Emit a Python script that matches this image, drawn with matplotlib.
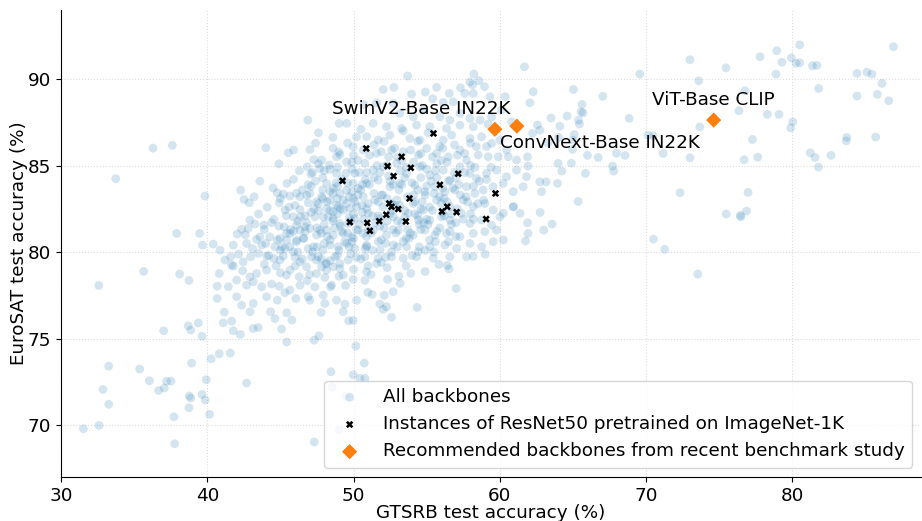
import numpy as np
import matplotlib
matplotlib.use("Agg")
import matplotlib.pyplot as plt

# ---------------- data (GTSRB %, EuroSAT %) ----------------
# sparse outskirts, lower-left
outskirts_left = [
    (36.29, 86.01), (37.61, 86.17), (33.74, 84.24), (37.91, 81.08), (39.48, 81.08),
    (35.65, 78.88), (38.11, 78.73), (38.75, 78.36), (32.58, 78.07),
    (41.16, 76.53), (41.09, 75.91), (41.67, 76.01), (41.78, 75.45), (42.26, 75.24),
    (37.02, 75.45), (38.70, 75.74), (38.87, 75.49), (39.39, 75.90), (39.64, 75.13),
    (40.27, 73.83), (40.82, 74.12), (41.57, 74.16), (38.93, 73.58), (33.26, 73.41),
    (35.38, 73.24), (36.04, 72.56), (37.22, 72.53), (37.52, 72.54), (36.68, 72.00),
    (37.06, 72.14), (32.87, 72.06), (39.93, 72.62), (38.77, 71.68), (38.87, 71.56),
    (39.64, 71.77), (39.86, 71.45), (33.26, 71.20), (38.75, 71.00), (37.72, 70.48),
    (40.16, 70.62), (42.69, 72.43), (31.53, 69.79), (32.60, 69.98), (37.77, 68.92),
]
outskirts_low = [
    (45.43, 74.80), (47.31, 74.91), (47.63, 75.16), (50.16, 74.57), (48.46, 73.08),
    (49.98, 72.91), (47.31, 69.02), (49.02, 69.73), (48.55, 72.20), (49.48, 71.68),
    (50.44, 72.70), (50.78, 72.70), (50.73, 73.58),
    (45.08, 75.55), (45.79, 76.07), (45.43, 76.49), (44.33, 76.55), (44.63, 76.15),
    (47.79, 76.51), (49.30, 76.55), (49.67, 76.03), (49.98, 76.05),
    (42.92, 76.55), (43.14, 75.58), (43.49, 75.64),
    (50.89, 80.40), (51.58, 79.34), (50.89, 78.86), (50.78, 78.36), (50.98, 77.67),
    (51.28, 77.55), (52.33, 78.42), (53.19, 78.19), (51.80, 77.00), (52.26, 76.84),
    (52.03, 76.69), (52.71, 77.71), (52.10, 77.50), (52.60, 76.23), (54.35, 76.80),
    (57.02, 77.90), (54.90, 78.88), (53.92, 78.77), (55.84, 79.29), (56.41, 79.23),
    (56.54, 79.03), (58.18, 79.75), (59.00, 79.88), (61.76, 80.64),
]
# left part of the main cloud
cloud_left = [
    (48.59, 86.63), (44.01, 86.03), (45.54, 85.74), (47.02, 85.93), (47.29, 85.35),
    (49.07, 85.64), (49.98, 86.09), (50.21, 86.66), (46.84, 84.93), (47.09, 84.51),
    (47.70, 84.83), (48.39, 84.78), (48.84, 84.55), (49.48, 84.55), (50.09, 84.55),
    (45.45, 83.97), (44.79, 83.43), (45.20, 83.35), (45.65, 83.24), (46.34, 83.20),
    (44.92, 82.85), (42.28, 83.58), (42.51, 83.04), (42.87, 82.85), (39.84, 83.24),
    (47.02, 83.39), (47.47, 82.91), (47.82, 83.20), (46.90, 82.85), (46.34, 82.46),
    (46.38, 82.04), (47.36, 82.04), (47.93, 82.04), (48.27, 82.04), (48.61, 82.33),
    (48.96, 82.62), (49.53, 82.81), (49.98, 83.10), (42.92, 81.85), (43.26, 81.62),
    (42.35, 81.31), (42.05, 81.04), (42.80, 81.37), (43.87, 81.56), (44.56, 81.89),
    (45.26, 81.46), (46.11, 81.56), (46.68, 81.46), (45.65, 81.08), (44.97, 80.79),
    (44.28, 80.88), (43.60, 80.88), (43.37, 80.73), (40.41, 80.46), (40.87, 80.11),
    (39.68, 80.40), (41.60, 79.73), (42.14, 79.88), (42.46, 79.44), (41.78, 79.19),
    (42.96, 79.73), (43.49, 79.92), (44.06, 79.77), (44.56, 79.63), (45.20, 79.77),
    (45.65, 80.31), (46.11, 80.69), (46.56, 80.79), (47.25, 80.31), (47.13, 79.73),
    (47.59, 79.73), (48.16, 79.38), (48.73, 79.73), (49.07, 79.34), (49.64, 79.54),
    (40.82, 78.76), (41.66, 79.25), (42.42, 78.92), (42.92, 78.57), (43.15, 78.28),
    (43.72, 77.99), (44.40, 78.15), (44.92, 78.03), (45.42, 78.67), (46.29, 78.57),
    (46.84, 78.34), (47.47, 78.76), (48.04, 78.53), (48.43, 77.99), (49.30, 78.67),
    (49.98, 78.42), (49.46, 78.07), (40.68, 78.03), (40.68, 77.32), (42.01, 77.42),
    (42.35, 76.93), (43.15, 77.03), (44.06, 77.42), (44.79, 77.22), (45.31, 77.65),
    (46.06, 77.32), (46.90, 77.42), (47.93, 77.51), (48.50, 78.09), (49.41, 76.99),
    (50.21, 77.22),
    (48.16, 83.97), (48.61, 83.68), (49.07, 83.39), (49.53, 83.58), (49.98, 83.97),
    (50.32, 83.68), (48.39, 83.00), (48.84, 82.71), (49.30, 82.43), (49.75, 82.52),
    (50.21, 82.62), (48.16, 82.52), (48.61, 81.94), (49.07, 81.65), (49.64, 81.65),
    (50.09, 81.94), (48.16, 81.27), (48.61, 80.98), (49.30, 81.08), (49.87, 80.88),
    (50.32, 81.27), (48.39, 80.40), (48.96, 80.31), (49.53, 80.50), (50.09, 80.21),
    (48.61, 79.15), (48.16, 78.96), (49.07, 79.05), (47.47, 79.54), (47.82, 79.15),
    (46.34, 81.27), (45.42, 81.08), (45.88, 82.04), (45.31, 82.43), (47.02, 81.37),
    (47.47, 80.98), (47.70, 81.27), (45.88, 80.02), (46.34, 79.44), (46.79, 79.15),
    (45.65, 78.96), (44.97, 79.54), (47.36, 77.99), (46.34, 78.09), (45.65, 77.80),
    (47.02, 77.22), (48.04, 77.03), (48.84, 77.22), (44.06, 78.96), (43.37, 78.76),
    (42.69, 78.09), (42.01, 78.38), (41.44, 78.00), (41.21, 79.54), (41.78, 80.40),
    (42.69, 80.50), (43.72, 80.40), (44.63, 80.31), (45.31, 80.21), (45.42, 80.69),
    (46.88, 87.63), (49.02, 87.44), (49.53, 87.44), (48.34, 85.03), (48.84, 85.51),
    (49.53, 85.22), (47.82, 85.32),
]
# centre / right part of the main cloud
cloud_centre = [
    (53.70, 90.18), (52.03, 89.40), (52.76, 89.52), (53.97, 89.13), (54.91, 89.25),
    (55.68, 89.52), (56.55, 89.17), (57.32, 89.50), (57.62, 89.17), (58.23, 90.29),
    (58.57, 89.91), (58.96, 89.56), (57.96, 89.83), (58.14, 89.67), (62.29, 89.27),
    (60.37, 88.98), (59.33, 88.98), (58.19, 89.17),
    (50.71, 88.52), (51.58, 88.63), (52.72, 88.60), (55.41, 88.86), (56.14, 88.65),
    (56.82, 88.69), (53.17, 88.02), (54.09, 87.82), (54.77, 88.21), (55.91, 87.82),
    (56.59, 87.63), (57.28, 88.02), (57.96, 87.73), (58.64, 87.63), (59.44, 87.82),
    (60.12, 88.21), (60.81, 87.54), (51.35, 87.44), (52.26, 87.25), (53.29, 87.15),
    (54.31, 87.34), (55.22, 87.25), (56.36, 87.15), (57.28, 87.34), (58.19, 87.25),
    (50.90, 86.67), (51.69, 86.48), (52.49, 86.76), (53.86, 86.57), (54.54, 86.48),
    (56.14, 86.48), (56.71, 86.76), (57.96, 86.57), (58.76, 86.67), (59.44, 86.28),
    (60.01, 86.48), (60.46, 85.90), (50.67, 85.90), (51.58, 85.71), (52.60, 85.90),
    (53.40, 85.80), (54.43, 85.61), (55.00, 85.99), (55.68, 85.71), (56.48, 85.51),
    (57.28, 85.90), (57.73, 85.32), (58.53, 85.61), (59.21, 85.51), (59.90, 85.51),
    (60.58, 85.51), (61.15, 85.32),
    (50.78, 85.13), (51.35, 84.74), (52.03, 84.93), (52.95, 85.13), (53.63, 84.55),
    (54.54, 84.93), (55.22, 84.45), (56.14, 84.74), (56.59, 84.16), (57.28, 84.93),
    (57.96, 84.55), (58.41, 84.26), (59.10, 84.55), (59.78, 84.74), (60.46, 84.36),
    (61.15, 84.74), (61.83, 84.36), (50.90, 83.97), (51.69, 84.16), (52.49, 83.78),
    (53.17, 83.97), (54.20, 83.87), (54.88, 83.49), (55.57, 83.78), (56.25, 83.49),
    (56.93, 83.59), (57.73, 83.78), (58.30, 83.39), (58.87, 83.59), (59.55, 83.78),
    (60.24, 83.97), (60.92, 83.49), (61.60, 83.78),
    (50.67, 83.20), (51.47, 83.01), (52.03, 82.62), (52.95, 83.01), (54.09, 82.81),
    (54.77, 82.43), (55.68, 83.01), (56.59, 82.62), (57.50, 83.01), (58.19, 82.62),
    (58.98, 82.81), (59.55, 82.43), (60.24, 82.24), (60.92, 82.62), (51.01, 82.24),
    (51.81, 81.95), (52.72, 82.04), (53.74, 82.24), (54.43, 81.85), (55.22, 81.85),
    (56.02, 82.04), (56.59, 81.85), (57.39, 82.24), (57.96, 81.66), (58.76, 81.85),
    (59.44, 81.56), (60.01, 82.04),
    (50.67, 81.08), (51.35, 81.27), (52.26, 80.98), (53.06, 81.27), (54.09, 80.98),
    (54.88, 81.27), (55.57, 80.98), (56.36, 81.08), (57.28, 80.89), (58.19, 81.08),
    (58.98, 81.18), (59.78, 81.27), (60.24, 80.70), (50.90, 80.31), (51.81, 80.12),
    (52.72, 80.41), (53.63, 80.31), (54.43, 80.02), (55.22, 80.31), (56.25, 80.41),
    (57.05, 80.21), (57.96, 80.50), (58.76, 80.31), (59.55, 80.60), (50.78, 79.73),
    (51.69, 79.64), (52.60, 79.73), (53.40, 79.64), (54.31, 79.73), (55.45, 79.64),
    (56.59, 79.73), (57.73, 79.73),
]
# darkest overlapping region of the cloud (many stacked points)
cloud_dense = [
    (46.7, 81.2), (47.3, 82.5), (47.9, 83.6), (48.2, 80.9), (48.6, 81.8), (48.9, 83.1),
    (49.2, 84.2), (49.4, 80.6), (49.7, 82.0), (49.9, 83.5), (50.2, 81.3), (50.4, 84.6),
    (50.6, 82.7), (50.9, 80.9), (51.1, 83.9), (51.3, 82.1), (51.6, 85.0), (51.8, 81.5),
    (52.0, 83.3), (52.2, 80.5), (52.4, 84.4), (52.6, 82.4), (52.9, 81.1), (53.1, 83.6),
    (53.3, 85.3), (53.5, 82.0), (53.8, 80.8), (54.0, 84.0), (54.2, 82.9), (54.5, 81.6),
    (54.7, 85.0), (54.9, 83.3), (55.2, 80.7), (55.4, 82.4), (55.7, 84.3), (55.9, 81.4),
    (56.2, 83.1), (56.4, 85.2), (56.7, 82.2), (57.0, 80.9), (57.2, 83.9), (57.5, 81.9),
    (48.0, 84.7), (47.5, 80.3), (46.9, 83.9), (50.0, 85.6), (51.4, 86.2), (52.8, 86.0),
    (54.4, 86.4), (55.9, 86.1), (49.1, 81.5), (50.7, 81.9), (52.3, 81.8), (53.7, 81.3),
    (55.0, 81.9), (56.5, 80.6), (50.1, 82.9), (51.7, 82.9), (53.2, 82.7), (54.6, 82.5),
    (56.0, 82.8), (57.8, 82.9), (48.4, 82.4), (47.2, 84.6), (58.3, 84.9), (58.9, 83.0),
    (46.2, 80.0), (47.8, 79.6), (49.8, 79.9), (51.0, 79.2),
]
cloud_dense2 = [
    (47.6, 86.9), (50.5, 87.1), (52.1, 86.4), (53.4, 87.0), (55.1, 86.9), (56.9, 86.2),
    (58.4, 86.1), (59.2, 87.4),
    (45.9, 85.9), (47.4, 86.3), (48.6, 86.0), (49.6, 86.3), (51.1, 85.6), (52.4, 85.5),
    (53.9, 85.9), (55.4, 85.5), (56.1, 86.0), (57.6, 85.7), (59.1, 86.1),
    (44.9, 85.1), (46.3, 84.7), (47.6, 85.1), (48.9, 84.9), (49.9, 85.2), (50.9, 84.6),
    (52.3, 85.0), (53.2, 84.7), (54.1, 85.2), (55.0, 84.8), (56.0, 85.3), (56.9, 84.6),
    (58.0, 85.0), (59.4, 84.9),
    (43.6, 84.1), (44.5, 83.7), (45.9, 84.2), (46.5, 83.6), (47.4, 84.1), (48.4, 83.5),
    (49.6, 84.0), (50.5, 83.6), (51.4, 84.3), (52.7, 83.9), (53.5, 84.3), (54.4, 83.6),
    (55.3, 84.1), (56.1, 83.7), (57.0, 84.3), (58.2, 83.8), (59.1, 84.2),
    (43.2, 83.2), (44.1, 82.6), (45.0, 83.1), (46.0, 82.7), (46.8, 83.3), (47.6, 82.8),
    (48.6, 83.4), (49.3, 83.0), (50.3, 83.3), (51.0, 82.8), (51.9, 83.3), (52.8, 82.7),
    (53.7, 83.2), (54.7, 82.9), (55.5, 83.4), (56.4, 82.9), (57.3, 83.3), (58.5, 82.8),
    (43.5, 82.2), (44.4, 81.7), (45.4, 82.1), (46.2, 81.8), (47.1, 82.3), (48.0, 81.6),
    (48.9, 82.2), (49.8, 81.8), (50.6, 82.3), (51.5, 81.7), (52.5, 82.2), (53.3, 81.7),
    (54.2, 82.2), (55.1, 81.6), (56.1, 82.3), (57.0, 81.7), (58.0, 82.2),
    (42.6, 81.0), (43.9, 81.3), (44.8, 80.7), (45.7, 81.3), (46.6, 80.8), (47.5, 81.4),
    (48.4, 80.7), (49.2, 81.2), (50.0, 80.8), (51.0, 81.3), (51.9, 80.7), (52.7, 81.3),
    (53.6, 80.8), (54.6, 81.3), (55.6, 80.6), (56.6, 81.2),
    (43.1, 80.2), (44.2, 79.8), (45.1, 80.3), (46.0, 79.7), (46.9, 80.2), (47.9, 80.1),
    (48.9, 79.8), (49.7, 80.3), (50.5, 79.6), (51.3, 80.1), (52.2, 79.7), (53.0, 80.3),
    (54.0, 79.8), (54.9, 80.1),
    (43.9, 79.3), (45.0, 78.8), (46.0, 79.2), (47.0, 78.7), (48.1, 79.3), (49.0, 78.6),
    (50.0, 79.0), (51.2, 78.7), (52.3, 79.1), (53.1, 78.6),
]
cloud_dense3 = [
    (49.0, 85.8), (50.3, 85.3), (51.9, 85.8), (53.0, 85.5), (54.6, 85.7), (55.7, 85.1),
    (57.1, 85.6), (58.0, 86.3),
    (47.9, 84.3), (48.8, 84.0), (49.9, 84.8), (50.8, 84.2), (51.8, 84.6), (52.5, 84.1),
    (53.6, 84.9), (54.6, 84.3), (55.6, 84.7), (56.5, 84.1), (57.6, 84.6), (58.6, 84.1),
    (46.1, 83.4), (47.1, 83.8), (47.9, 83.1), (48.9, 83.8), (49.7, 83.2), (50.6, 83.9),
    (51.4, 83.4), (52.3, 83.1), (53.3, 83.9), (54.1, 83.3), (55.0, 83.8), (55.9, 83.2),
    (56.8, 83.7), (57.7, 83.2),
    (45.6, 82.6), (46.7, 82.1), (47.6, 82.4), (48.2, 82.9), (49.1, 82.5), (50.0, 82.2),
    (50.9, 82.5), (51.7, 82.1), (52.6, 82.8), (53.5, 82.4), (54.4, 82.1), (55.2, 82.6),
    (56.2, 82.1), (57.1, 82.5), (58.2, 81.9),
    (44.9, 81.5), (45.9, 81.2), (46.8, 81.7), (47.8, 81.1), (48.7, 81.4), (49.6, 81.1),
    (50.4, 81.6), (51.2, 81.1), (52.1, 81.4), (53.0, 81.8), (53.9, 81.1), (54.8, 81.7),
    (55.7, 81.2), (56.7, 81.6),
    (44.0, 80.5), (45.0, 80.1), (46.1, 80.6), (47.2, 80.0), (48.0, 80.5), (49.0, 80.1),
    (49.9, 80.6), (50.8, 80.2), (51.7, 80.6), (52.6, 80.0), (53.4, 80.6), (54.5, 80.3),
    (55.5, 80.0),
    (44.7, 79.2), (46.5, 79.6), (48.4, 79.5), (50.2, 79.7), (51.9, 79.4), (53.6, 79.2),
]
# right side (GTSRB > 60)
right_side = [
    (61.69, 90.71), (65.04, 89.40), (67.05, 89.00), (65.63, 88.54), (65.70, 88.05),
    (65.56, 88.11), (68.85, 87.73), (63.51, 87.75), (64.11, 87.28), (64.61, 87.86),
    (65.39, 87.63), (65.45, 87.40), (62.74, 87.05), (62.58, 87.34), (62.24, 86.86),
    (64.02, 86.63), (63.29, 86.32), (64.98, 85.94), (66.73, 85.47), (67.98, 85.71),
    (68.57, 85.59), (67.71, 84.97), (63.99, 85.13), (64.24, 84.68), (65.86, 84.55),
    (67.80, 84.68), (62.74, 84.06), (63.17, 84.06), (63.95, 83.97), (65.36, 82.93),
    (62.86, 83.49), (62.76, 82.29), (61.90, 81.69), (60.94, 82.62), (61.39, 82.24),
    (63.01, 81.27), (61.94, 81.08), (63.58, 81.62), (62.06, 88.63), (65.09, 86.80),
    (65.02, 86.47), (66.00, 85.59), (61.90, 85.51), (61.94, 84.97), (64.90, 85.14),
    (69.58, 90.29), (73.01, 91.12), (75.47, 90.65), (73.61, 89.90), (77.80, 91.29),
    (78.94, 91.64), (80.51, 91.98), (79.30, 90.97), (79.94, 91.23), (80.26, 90.91),
    (80.51, 90.94), (78.89, 90.29), (81.38, 90.77), (81.69, 90.79), (86.92, 91.87),
    (84.43, 90.33), (85.11, 90.40), (85.45, 90.29), (86.14, 89.75), (84.43, 89.02),
    (85.82, 89.12), (86.60, 88.75), (81.81, 89.46), (76.77, 89.32), (76.36, 88.17),
    (78.30, 87.96), (79.10, 87.96), (80.04, 87.53), (79.90, 87.18), (73.68, 87.23),
    (70.14, 86.76), (70.49, 86.72), (71.17, 85.70), (73.01, 85.45), (77.28, 86.51),
    (76.71, 85.34), (77.64, 85.49), (81.24, 85.74), (81.56, 85.47), (81.79, 84.91),
    (82.65, 85.59), (83.73, 86.63), (83.70, 86.43), (85.71, 86.65), (72.33, 83.43),
    (76.98, 83.45), (75.49, 82.20), (76.48, 82.04), (76.87, 82.37), (76.46, 82.12),
    (70.51, 80.75), (71.28, 80.16), (73.54, 78.73),
]

resnet50_gtsrb = [55.47, 50.87, 53.29, 52.33, 53.92, 52.74, 49.25, 57.16, 55.91, 59.71,
                  53.83, 52.44, 52.60, 53.06, 56.41, 56.05, 57.05, 52.24, 51.76, 53.58,
                  49.75, 50.94, 51.12, 59.07]
resnet50_eurosat = [86.86, 85.99, 85.51, 84.97, 84.87, 84.39, 84.12, 84.53, 83.89, 83.39,
                    83.10, 82.81, 82.62, 82.49, 82.62, 82.35, 82.31, 82.16, 81.79, 81.77,
                    81.73, 81.69, 81.23, 81.91]

rec_names = ["SwinV2-Base IN22K", "ConvNext-Base IN22K", "ViT-Base CLIP"]
rec_gtsrb = [59.67, 61.17, 74.63]
rec_eurosat = [87.10, 87.28, 87.63]

# ---------------- plot ----------------
all_pts = np.array(outskirts_left + outskirts_low + cloud_left + cloud_centre
                   + cloud_dense + cloud_dense2 + cloud_dense3 + right_side)

FS = 13.2
fig = plt.figure(figsize=(9.22, 5.21), dpi=100)
ax = fig.add_axes([0.0662, 0.0845, 0.9326, 0.8965])

ax.scatter(all_pts[:, 0], all_pts[:, 1], s=40, color="#1f77b4", alpha=0.19,
           edgecolors="none", label="All backbones", zorder=2)
ax.scatter(resnet50_gtsrb, resnet50_eurosat, s=28, marker="X", color="black",
           edgecolors="none", label="Instances of ResNet50 pretrained on ImageNet-1K",
           zorder=3)
ax.scatter(rec_gtsrb, rec_eurosat, s=60, marker="D", color="#ff7f0e",
           edgecolors="none", label="Recommended backbones from recent benchmark study",
           zorder=4)

offsets = [(-53, 14.6), (60, -12.2), (-0.6, 14.4)]
for name, gx, gy, off in zip(rec_names, rec_gtsrb, rec_eurosat, offsets):
    ax.annotate(name, (gx, gy), xytext=off, textcoords="offset points",
                ha="center", va="center", fontsize=FS, zorder=5)

ax.set_xlim(30, 88.8)
ax.set_ylim(67, 94)
ax.set_xticks([30, 40, 50, 60, 70, 80])
ax.set_yticks([70, 75, 80, 85, 90])
ax.tick_params(labelsize=FS)
ax.set_xlabel("GTSRB test accuracy (%)", fontsize=FS, labelpad=-0.5)
ax.set_ylabel("EuroSAT test accuracy (%)", fontsize=FS, labelpad=0)
ax.grid(True, color="#dddddd", linestyle=":", linewidth=0.8)
ax.set_axisbelow(True)
for side in ("top", "right"):
    ax.spines[side].set_visible(False)

ax.legend(loc="lower right", fontsize=FS)

fig.savefig("out.png", dpi=100)
